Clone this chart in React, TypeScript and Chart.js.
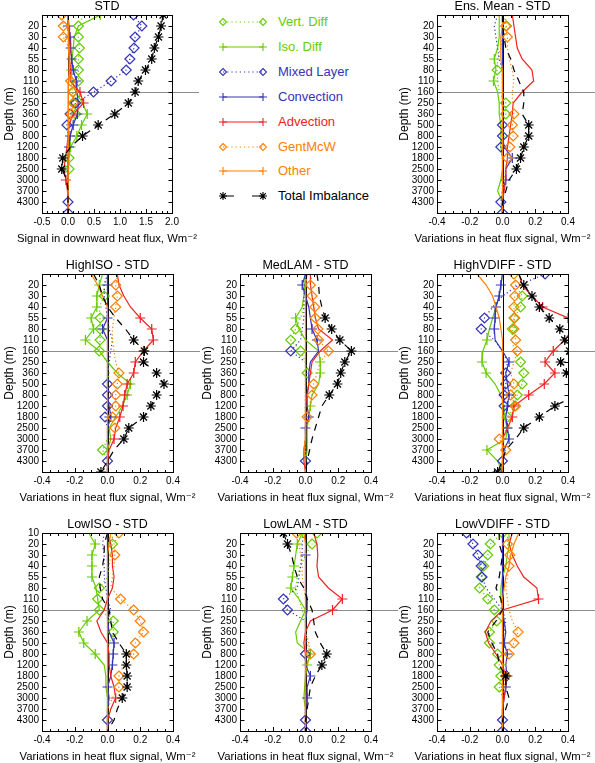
import React, { useEffect, useRef } from "react";
import { Chart, registerables } from "chart.js";

Chart.register(...registerables);

const FONT = "'Liberation Sans', Arial, Helvetica, 'DejaVu Sans', sans-serif";
Chart.defaults.font.family = FONT;

// ---------- axis categories ----------
const DEPTH_LABELS = ["10", "20", "30", "40", "55", "80", "110", "160", "250", "360", "500", "800", "1200", "1800", "2500", "3000", "3700", "4300", ""];
const REF_DEPTH_INDEX = 7; // 160 m

// ---------- series ----------
const SERIES_NAMES = ["Vert. Diff", "Iso. Diff", "Mixed Layer", "Convection", "Advection", "GentMcW", "Other", "Total Imbalance"];
const SERIES_COLORS = ["#66cc00", "#66cc00", "#3434b8", "#3434b8", "#ee2222", "#ff8000", "#ff8000", "#000000"];
const SERIES_MARKERS = ["diamond", "plus", "diamond", "plus", "plus", "diamond", "plus", "star"];
const SERIES_LINES = ["dot", "solid", "dot", "solid", "solid", "dot", "solid", "dash"];

// ---------- STD ----------
const STD_VERT = [0.30, 0.20, 0.20, 0.22, 0.20, 0.20, 0.20, 0.10, 0.12, 0.15, 0.08, 0.05, 0.02, 0.02, 0.02, 0.00, 0.00, 0.00, 0.00];
const STD_VERT_PTS = [1, 2, 3, 4, 5, 6, 7, 8, 9, 13, 14];
const STD_ISO = [0.62, 0.20, 0.12, 0.10, 0.08, 0.06, 0.08, 0.15, 0.28, 0.37, 0.26, 0.17, 0.05, 0.02, 0.00, 0.00, 0.00, 0.00, 0.00];
const STD_ISO_PTS = [0, 5, 9, 10, 11, 12];
const STD_MIX = [1.26, 1.42, 1.29, 1.27, 1.19, 1.12, 0.83, 0.49, 0.15, 0.04, -0.02, 0.00, 0.00, 0.00, 0.00, 0.00, 0.00, 0.00, 0.00];
const STD_MIX_PTS = [0, 1, 2, 3, 4, 5, 6, 7, 8, 9, 10, 17, 18];
const STD_CONV = [0.00, 0.00, 0.04, 0.05, 0.07, 0.10, 0.16, 0.17, 0.20, 0.18, 0.10, 0.04, 0.02, 0.00, 0.00, 0.00, 0.00, 0.00, 0.00];
const STD_CONV_PTS = [1, 2, 3, 4, 5, 6, 9, 10, 11, 12];
const STD_ADV = [0.00, 0.02, 0.03, 0.04, 0.03, 0.05, 0.04, 0.23, 0.30, 0.10, 0.02, 0.00, -0.02, -0.05, -0.08, -0.04, -0.01, 0.00, 0.00];
const STD_ADV_PTS = [7, 8, 15];
const STD_GM = [-0.12, -0.09, -0.09, 0.02, 0.03, 0.05, 0.05, 0.09, 0.10, 0.06, 0.02, 0.00, 0.00, 0.00, 0.00, 0.00, 0.00, 0.00, 0.00];
const STD_GM_PTS = [0, 1, 2, 6, 7, 8, 9];
const STD_OTH = [0.00, 0.00, 0.01, 0.01, 0.02, 0.02, 0.01, 0.00, 0.00, 0.01, 0.01, 0.00, 0.00, 0.00, 0.00, 0.00, 0.00, 0.00, 0.00];
const STD_OTH_PTS: number[] = [];
const STD_TOT = [1.83, 1.79, 1.74, 1.66, 1.61, 1.49, 1.35, 1.29, 1.16, 0.90, 0.58, 0.28, 0.05, -0.10, -0.12, -0.02, 0.00, 0.00, 0.00];
const STD_TOT_PTS = [0, 1, 2, 3, 4, 5, 6, 7, 8, 9, 10, 11, 13, 14];

// ---------- Ens. Mean - STD ----------
const ENS_VERT = [0.00, 0.025, 0.00, -0.01, -0.03, -0.033, -0.03, -0.02, 0.02, 0.02, 0.00, 0.01, 0.00, 0.00, 0.00, 0.00, 0.00, 0.00, 0.00];
const ENS_VERT_PTS = [1, 5, 8, 9];
const ENS_ISO = [-0.02, -0.02, -0.02, -0.03, -0.05, -0.04, -0.055, -0.03, -0.02, -0.02, -0.01, -0.01, -0.01, 0.00, 0.00, -0.01, -0.03, 0.00, 0.00];
const ENS_ISO_PTS = [4, 6];
const ENS_MIX = [-0.03, -0.05, -0.04, -0.03, -0.02, 0.00, 0.00, 0.00, 0.00, 0.00, 0.00, 0.00, -0.01, 0.00, 0.00, 0.00, 0.00, -0.01, 0.00];
const ENS_MIX_PTS = [10, 11, 12, 17, 18];
const ENS_CONV = [0.00, 0.00, 0.00, 0.00, 0.00, 0.00, 0.00, 0.00, 0.00, 0.00, 0.00, 0.00, 0.01, 0.06, 0.02, 0.02, 0.00, 0.00, 0.00];
const ENS_CONV_PTS = [13, 15];
const ENS_ADV = [0.06, 0.07, 0.08, 0.09, 0.12, 0.18, 0.19, 0.12, 0.065, 0.06, 0.05, 0.04, 0.03, 0.03, 0.02, 0.02, 0.01, 0.00, 0.00];
const ENS_ADV_PTS: number[] = [];
const ENS_GM = [0.02, 0.02, 0.03, 0.03, 0.04, 0.06, 0.07, 0.06, 0.06, 0.07, 0.06, 0.065, 0.045, 0.03, 0.02, 0.01, 0.00, 0.00, 0.00];
const ENS_GM_PTS = [1, 2, 9, 10, 11, 12, 13];
const ENS_OTH = [0.00, 0.00, -0.01, -0.01, -0.01, 0.00, 0.00, 0.00, 0.00, 0.00, 0.00, 0.00, 0.00, 0.00, 0.00, 0.00, 0.00, 0.00, 0.00];
const ENS_OTH_PTS: number[] = [];
const ENS_TOT = [0.00, 0.00, 0.01, 0.02, 0.05, 0.07, 0.10, 0.13, 0.13, 0.12, 0.16, 0.16, 0.13, 0.11, 0.085, 0.04, 0.02, 0.00, 0.00];
const ENS_TOT_PTS = [10, 11, 12, 13, 14];

// ---------- HighISO - STD ----------
const HISO_VERT = [0.00, -0.02, -0.02, -0.05, -0.045, -0.045, -0.045, -0.05, 0.00, 0.01, 0.00, 0.00, 0.00, 0.00, 0.00, 0.00, -0.03, 0.00, 0.00];
const HISO_VERT_PTS = [2, 4, 5, 6, 7, 16];
const HISO_ISO = [-0.03, -0.05, -0.065, -0.065, -0.10, -0.085, -0.135, -0.05, 0.00, 0.06, 0.14, 0.12, 0.09, 0.05, 0.01, 0.02, 0.00, 0.00, 0.00];
const HISO_ISO_PTS = [1, 2, 3, 4, 5, 6, 10, 11];
const HISO_MIX = [0.00, -0.02, -0.02, -0.01, 0.00, 0.01, 0.03, 0.02, 0.01, 0.00, 0.00, 0.00, 0.00, -0.015, 0.00, 0.00, 0.00, 0.00, 0.00];
const HISO_MIX_PTS = [10, 11, 12, 13, 17];
const HISO_CONV = [0.00, 0.00, 0.00, 0.00, 0.00, -0.03, 0.00, 0.00, 0.00, 0.00, 0.00, 0.00, 0.01, 0.02, 0.00, 0.00, 0.00, 0.00, 0.00];
const HISO_CONV_PTS = [1, 4, 5, 13];
const HISO_ADV = [0.06, 0.07, 0.10, 0.14, 0.20, 0.27, 0.28, 0.22, 0.17, 0.16, 0.12, 0.105, 0.095, 0.075, 0.05, 0.04, 0.01, 0.00, 0.00];
const HISO_ADV_PTS = [4, 5, 6, 7, 8, 9, 10, 11, 12, 13, 15];
const HISO_GM = [0.06, 0.05, 0.06, 0.05, 0.04, 0.03, 0.03, 0.04, 0.05, 0.07, 0.06, 0.05, 0.05, 0.03, 0.045, 0.02, 0.00, 0.00, 0.00];
const HISO_GM_PTS = [1, 2, 3, 9, 10, 11, 12, 13, 14];
const HISO_OTH = [-0.10, -0.06, -0.03, 0.00, 0.00, 0.00, 0.00, 0.00, 0.00, 0.00, 0.00, 0.00, 0.00, 0.00, 0.00, 0.00, 0.00, 0.00, 0.00];
const HISO_OTH_PTS: number[] = [];
const HISO_TOT = [-0.085, -0.05, -0.03, 0.00, 0.05, 0.11, 0.16, 0.225, 0.22, 0.30, 0.345, 0.30, 0.265, 0.22, 0.13, 0.10, 0.04, 0.00, -0.04];
const HISO_TOT_PTS = [6, 7, 8, 9, 10, 11, 12, 13, 14, 15, 18];

// ---------- MedLAM - STD ----------
const MLAM_VERT = [0.00, 0.00, 0.00, -0.01, -0.03, -0.06, -0.09, -0.03, 0.00, 0.01, 0.00, 0.00, 0.00, 0.00, 0.00, 0.00, 0.00, 0.00, 0.00];
const MLAM_VERT_PTS = [5, 6, 7, 9];
const MLAM_ISO = [0.00, -0.005, -0.01, -0.02, -0.06, -0.04, 0.00, 0.08, 0.09, 0.09, 0.08, 0.04, 0.03, 0.02, 0.01, 0.01, 0.01, 0.00, 0.00];
const MLAM_ISO_PTS = [4, 8, 9, 12];
const MLAM_MIX = [0.00, 0.00, -0.01, -0.01, -0.01, -0.02, -0.03, -0.09, 0.00, 0.00, 0.00, 0.00, 0.00, 0.00, 0.00, 0.00, 0.00, 0.00, 0.00];
const MLAM_MIX_PTS = [7, 17];
const MLAM_CONV = [0.00, -0.02, 0.00, 0.02, 0.03, 0.04, 0.07, 0.08, 0.03, 0.02, 0.02, 0.01, 0.01, 0.02, 0.00, 0.00, 0.00, 0.00, 0.00];
const MLAM_CONV_PTS = [1, 5, 6, 13, 14];
const MLAM_ADV = [0.03, 0.03, 0.04, 0.05, 0.06, 0.08, 0.165, 0.09, 0.04, 0.03, 0.02, 0.01, 0.00, 0.00, 0.00, 0.00, -0.01, -0.01, 0.00];
const MLAM_ADV_PTS: number[] = [];
const MLAM_GM = [0.04, 0.03, 0.04, 0.057, 0.06, 0.076, 0.08, 0.14, 0.09, 0.07, 0.05, 0.04, 0.03, 0.01, 0.00, 0.00, 0.00, 0.00, 0.00];
const MLAM_GM_PTS = [1, 2, 3, 4, 5, 6, 7, 10, 11, 13];
const MLAM_OTH = [0.01, 0.00, 0.00, 0.00, 0.00, 0.00, 0.00, 0.00, 0.00, 0.00, 0.00, 0.00, 0.00, 0.00, 0.00, 0.00, -0.01, 0.00, 0.00];
const MLAM_OTH_PTS: number[] = [];
const MLAM_TOT = [0.07, 0.08, 0.085, 0.10, 0.12, 0.16, 0.21, 0.28, 0.24, 0.215, 0.195, 0.145, 0.10, 0.08, 0.06, 0.04, 0.025, 0.01, 0.00];
const MLAM_TOT_PTS = [4, 5, 6, 7, 8, 9, 10, 11];

// ---------- HighVDIFF - STD ----------
const HVD_VERT = [0.05, 0.08, 0.12, 0.11, 0.07, 0.06, 0.06, 0.07, 0.11, 0.13, 0.12, 0.09, 0.075, 0.03, 0.02, 0.01, 0.00, 0.00, 0.00];
const HVD_VERT_PTS = [2, 3, 4, 5, 8, 9, 10, 11, 12, 13];
const HVD_ISO = [0.00, -0.01, -0.02, -0.04, -0.06, -0.08, -0.095, -0.12, -0.125, -0.10, -0.045, -0.01, 0.01, 0.01, 0.03, 0.02, -0.095, -0.03, 0.00];
const HVD_ISO_PTS = [6, 8, 9, 14, 16];
const HVD_MIX = [0.26, 0.10, 0.00, -0.06, -0.11, -0.13, -0.05, 0.00, 0.03, 0.02, 0.02, 0.01, 0.01, 0.00, 0.00, 0.00, 0.00, 0.00, -0.01];
const HVD_MIX_PTS = [0, 4, 5, 9, 10, 11, 12, 17];
const HVD_CONV = [0.00, -0.01, -0.02, -0.04, -0.045, -0.05, -0.045, 0.00, 0.04, 0.02, 0.03, 0.04, 0.03, 0.02, 0.03, 0.04, 0.01, 0.00, 0.00];
const HVD_CONV_PTS = [1, 2, 3, 4, 5, 8, 11, 12, 14, 15];
const HVD_ADV = [0.10, 0.12, 0.18, 0.245, 0.40, 0.43, 0.38, 0.31, 0.26, 0.32, 0.255, 0.16, 0.07, 0.06, 0.03, 0.00, 0.00, 0.00, 0.00];
const HVD_ADV_PTS = [3, 4, 7, 8, 9, 10, 11, 12, 13];
const HVD_GM = [0.07, 0.08, 0.075, 0.07, 0.075, 0.07, 0.08, 0.09, 0.07, 0.05, 0.07, 0.05, 0.08, 0.05, 0.04, -0.02, 0.02, 0.00, 0.00];
const HVD_GM_PTS = [0, 1, 2, 3, 4, 5, 6, 7, 10, 11, 12, 15, 16];
const HVD_OTH = [-0.155, -0.10, -0.06, -0.04, -0.02, -0.01, 0.00, 0.00, 0.00, 0.00, 0.00, 0.00, 0.00, 0.00, 0.00, 0.00, 0.00, 0.00, 0.00];
const HVD_OTH_PTS: number[] = [];
const HVD_TOT = [0.10, 0.13, 0.18, 0.225, 0.285, 0.35, 0.38, 0.41, 0.355, 0.39, 0.50, 0.45, 0.32, 0.225, 0.13, 0.08, 0.02, 0.00, -0.03];
const HVD_TOT_PTS = [1, 2, 3, 4, 5, 6, 7, 8, 9, 12, 13, 14, 18];

// ---------- LowISO - STD ----------
const LISO_VERT = [0.03, 0.03, 0.02, 0.01, 0.00, -0.05, -0.06, -0.05, 0.035, 0.035, 0.01, 0.00, 0.00, 0.00, 0.00, 0.00, 0.00, 0.00, 0.00];
const LISO_VERT_PTS = [1, 5, 6, 7, 8, 9];
const LISO_ISO = [-0.115, -0.075, -0.095, -0.095, -0.095, -0.07, -0.06, -0.05, -0.125, -0.175, -0.145, -0.075, -0.02, -0.01, -0.01, 0.00, 0.00, 0.00, 0.00];
const LISO_ISO_PTS = [1, 2, 3, 4, 8, 9, 10, 11];
const LISO_MIX = [-0.02, -0.03, -0.02, -0.02, -0.02, -0.01, 0.00, 0.02, 0.00, 0.00, 0.00, 0.00, 0.00, 0.00, 0.00, 0.00, 0.00, 0.00, 0.00];
const LISO_MIX_PTS = [17];
const LISO_CONV = [0.00, 0.00, 0.00, 0.00, 0.00, 0.00, 0.00, 0.00, 0.00, 0.01, 0.04, 0.035, 0.03, 0.02, 0.00, 0.01, 0.00, 0.00, 0.00];
const LISO_CONV_PTS = [10, 11, 12, 14];
const LISO_ADV = [0.00, 0.02, 0.03, 0.03, 0.04, 0.03, 0.00, -0.02, -0.065, -0.04, 0.00, 0.01, 0.01, 0.02, 0.04, 0.05, 0.02, 0.00, 0.00];
const LISO_ADV_PTS = [15];
const LISO_GM = [0.07, 0.04, 0.045, 0.04, 0.03, 0.02, 0.08, 0.16, 0.20, 0.22, 0.17, 0.16, 0.10, 0.07, 0.07, 0.03, 0.00, 0.00, 0.00];
const LISO_GM_PTS = [0, 2, 6, 7, 8, 9, 10, 11, 13, 14];
const LISO_OTH = [0.02, 0.01, 0.00, 0.00, 0.00, 0.00, 0.00, 0.00, 0.00, 0.00, 0.00, 0.00, 0.00, 0.00, 0.00, 0.00, 0.00, 0.00, 0.00];
const LISO_OTH_PTS: number[] = [];
const LISO_TOT = [0.00, -0.02, -0.02, -0.03, -0.05, -0.045, -0.03, 0.01, 0.02, 0.03, 0.07, 0.115, 0.115, 0.12, 0.12, 0.09, 0.06, 0.04, 0.00];
const LISO_TOT_PTS = [11, 12, 13, 14, 15];

// ---------- LowLAM - STD ----------
const LLAM_VERT = [0.07, 0.04, 0.00, -0.03, -0.05, -0.06, -0.04, -0.02, 0.00, 0.00, 0.01, 0.03, 0.01, 0.00, 0.00, 0.00, 0.00, 0.00, 0.00];
const LLAM_VERT_PTS = [0, 1];
const LLAM_ISO = [-0.02, -0.05, -0.06, -0.07, -0.08, -0.09, -0.04, 0.00, -0.03, -0.06, -0.05, 0.03, 0.01, 0.00, -0.005, -0.01, 0.00, 0.00, 0.00];
const LLAM_ISO_PTS = [0, 1, 3, 4, 5, 11, 12];
const LLAM_MIX = [-0.01, -0.02, -0.02, -0.03, -0.04, -0.05, -0.135, -0.11, 0.00, 0.00, 0.00, 0.00, 0.00, 0.00, 0.00, 0.00, 0.00, 0.00, 0.00];
const LLAM_MIX_PTS = [6, 7, 11, 17, 18];
const LLAM_CONV = [0.00, 0.00, 0.00, 0.00, 0.00, 0.00, 0.01, 0.01, 0.00, 0.00, 0.00, 0.00, 0.00, 0.03, 0.01, 0.01, 0.00, 0.00, 0.00];
const LLAM_CONV_PTS = [2, 13, 15];
const LLAM_ADV = [0.05, 0.07, 0.075, 0.07, 0.08, 0.14, 0.225, 0.165, 0.03, 0.00, -0.01, 0.00, 0.00, 0.00, 0.00, 0.00, 0.00, 0.00, 0.00];
const LLAM_ADV_PTS = [6, 7];
const LLAM_GM = [-0.055, -0.04, -0.03, -0.02, -0.02, -0.01, 0.00, 0.00, 0.00, 0.00, 0.02, 0.03, 0.01, 0.00, 0.00, 0.00, 0.00, 0.00, 0.00];
const LLAM_GM_PTS = [0, 11];
const LLAM_OTH = [-0.01, 0.00, 0.00, 0.00, 0.00, 0.00, 0.00, 0.00, 0.00, 0.00, 0.00, 0.00, 0.00, 0.00, 0.00, 0.00, 0.00, 0.00, 0.00];
const LLAM_OTH_PTS: number[] = [];
const LLAM_TOT = [-0.135, -0.11, -0.085, -0.07, -0.05, -0.01, 0.01, 0.04, 0.05, 0.06, 0.09, 0.13, 0.10, 0.06, 0.03, 0.02, 0.01, 0.00, 0.00];
const LLAM_TOT_PTS = [0, 1, 11, 12];

// ---------- LowVDIFF - STD ----------
const LVD_VERT = [0.00, -0.075, -0.09, -0.115, -0.13, -0.14, -0.09, -0.05, -0.035, -0.08, -0.08, -0.03, -0.02, -0.01, -0.02, 0.00, 0.00, 0.00, 0.00];
const LVD_VERT_PTS = [0, 1, 2, 3, 4, 5, 6, 7, 8, 9, 10, 11, 12, 13, 14];
const LVD_ISO = [0.04, 0.04, 0.03, 0.02, 0.00, -0.01, -0.01, 0.00, 0.00, 0.00, 0.00, 0.00, 0.00, 0.00, 0.00, 0.00, 0.00, 0.00, 0.00];
const LVD_ISO_PTS: number[] = [];
const LVD_MIX = [-0.22, -0.18, -0.15, -0.13, -0.125, -0.10, -0.05, 0.00, 0.02, 0.01, 0.00, 0.00, 0.00, 0.00, 0.00, 0.00, 0.00, 0.00, 0.00];
const LVD_MIX_PTS = [0, 1, 2, 3, 4, 17, 18];
const LVD_CONV = [0.00, 0.00, 0.00, 0.00, 0.00, 0.00, 0.00, 0.00, 0.01, 0.02, 0.01, 0.03, 0.02, 0.03, 0.02, 0.01, 0.00, 0.00, 0.00];
const LVD_CONV_PTS = [10, 11, 13, 14];
const LVD_ADV = [0.06, 0.04, 0.06, 0.09, 0.13, 0.21, 0.22, 0.00, -0.07, -0.105, -0.085, -0.04, 0.00, 0.02, 0.02, 0.01, 0.00, 0.00, 0.00];
const LVD_ADV_PTS = [6];
const LVD_GM = [0.03, 0.03, 0.045, 0.04, 0.03, 0.02, 0.03, 0.04, 0.06, 0.095, 0.07, 0.04, 0.02, 0.02, 0.01, 0.00, 0.00, 0.00, 0.00];
const LVD_GM_PTS = [1, 2, 3, 9, 10, 11, 13];
const LVD_OTH = [0.10, 0.07, 0.05, 0.04, 0.02, 0.01, 0.00, 0.00, 0.00, 0.00, 0.00, 0.00, 0.00, 0.00, 0.00, 0.00, 0.00, 0.00, 0.00];
const LVD_OTH_PTS: number[] = [];
const LVD_TOT = [-0.02, -0.02, 0.00, -0.01, -0.02, -0.04, -0.01, 0.00, -0.04, -0.09, -0.065, -0.03, -0.02, 0.02, 0.02, 0.04, 0.02, 0.00, 0.00];
const LVD_TOT_PTS = [13];

// ---------- x ranges ----------
const STD_X = { min: -0.5, max: 2.0, major: 0.5, minor: 0.1 };
const VAR_X = { min: -0.4, max: 0.4, major: 0.2, minor: 0.05 };

const X_TITLE_STD = "Signal in downward heat flux, Wm\u207B\u00B2";
const X_TITLE_VAR = "Variations in heat flux signal, Wm\u207B\u00B2";

type Range = { min: number; max: number; major: number; minor: number };
type PanelDef = {
  title: string;
  xTitle: string;
  range: Range;
  showTopDepth: boolean;
  series: number[][];
  points: number[][];
  left: number;
  top: number;
  plotW: number;
};

const PANELS: PanelDef[] = [
  {
    title: "STD", xTitle: X_TITLE_STD, range: STD_X, showTopDepth: false, left: 0, top: 0, plotW: 130,
    series: [STD_VERT, STD_ISO, STD_MIX, STD_CONV, STD_ADV, STD_GM, STD_OTH, STD_TOT],
    points: [STD_VERT_PTS, STD_ISO_PTS, STD_MIX_PTS, STD_CONV_PTS, STD_ADV_PTS, STD_GM_PTS, STD_OTH_PTS, STD_TOT_PTS],
  },
  {
    title: "Ens. Mean - STD", xTitle: X_TITLE_VAR, range: VAR_X, showTopDepth: false, left: 395, top: 0, plotW: 131,
    series: [ENS_VERT, ENS_ISO, ENS_MIX, ENS_CONV, ENS_ADV, ENS_GM, ENS_OTH, ENS_TOT],
    points: [ENS_VERT_PTS, ENS_ISO_PTS, ENS_MIX_PTS, ENS_CONV_PTS, ENS_ADV_PTS, ENS_GM_PTS, ENS_OTH_PTS, ENS_TOT_PTS],
  },
  {
    title: "HighISO - STD", xTitle: X_TITLE_VAR, range: VAR_X, showTopDepth: false, left: 0, top: 259, plotW: 131,
    series: [HISO_VERT, HISO_ISO, HISO_MIX, HISO_CONV, HISO_ADV, HISO_GM, HISO_OTH, HISO_TOT],
    points: [HISO_VERT_PTS, HISO_ISO_PTS, HISO_MIX_PTS, HISO_CONV_PTS, HISO_ADV_PTS, HISO_GM_PTS, HISO_OTH_PTS, HISO_TOT_PTS],
  },
  {
    title: "MedLAM - STD", xTitle: X_TITLE_VAR, range: VAR_X, showTopDepth: false, left: 198, top: 259, plotW: 131,
    series: [MLAM_VERT, MLAM_ISO, MLAM_MIX, MLAM_CONV, MLAM_ADV, MLAM_GM, MLAM_OTH, MLAM_TOT],
    points: [MLAM_VERT_PTS, MLAM_ISO_PTS, MLAM_MIX_PTS, MLAM_CONV_PTS, MLAM_ADV_PTS, MLAM_GM_PTS, MLAM_OTH_PTS, MLAM_TOT_PTS],
  },
  {
    title: "HighVDIFF - STD", xTitle: X_TITLE_VAR, range: VAR_X, showTopDepth: false, left: 395, top: 259, plotW: 131,
    series: [HVD_VERT, HVD_ISO, HVD_MIX, HVD_CONV, HVD_ADV, HVD_GM, HVD_OTH, HVD_TOT],
    points: [HVD_VERT_PTS, HVD_ISO_PTS, HVD_MIX_PTS, HVD_CONV_PTS, HVD_ADV_PTS, HVD_GM_PTS, HVD_OTH_PTS, HVD_TOT_PTS],
  },
  {
    title: "LowISO - STD", xTitle: X_TITLE_VAR, range: VAR_X, showTopDepth: true, left: 0, top: 518, plotW: 131,
    series: [LISO_VERT, LISO_ISO, LISO_MIX, LISO_CONV, LISO_ADV, LISO_GM, LISO_OTH, LISO_TOT],
    points: [LISO_VERT_PTS, LISO_ISO_PTS, LISO_MIX_PTS, LISO_CONV_PTS, LISO_ADV_PTS, LISO_GM_PTS, LISO_OTH_PTS, LISO_TOT_PTS],
  },
  {
    title: "LowLAM - STD", xTitle: X_TITLE_VAR, range: VAR_X, showTopDepth: false, left: 198, top: 518, plotW: 131,
    series: [LLAM_VERT, LLAM_ISO, LLAM_MIX, LLAM_CONV, LLAM_ADV, LLAM_GM, LLAM_OTH, LLAM_TOT],
    points: [LLAM_VERT_PTS, LLAM_ISO_PTS, LLAM_MIX_PTS, LLAM_CONV_PTS, LLAM_ADV_PTS, LLAM_GM_PTS, LLAM_OTH_PTS, LLAM_TOT_PTS],
  },
  {
    title: "LowVDIFF - STD", xTitle: X_TITLE_VAR, range: VAR_X, showTopDepth: false, left: 395, top: 518, plotW: 131,
    series: [LVD_VERT, LVD_ISO, LVD_MIX, LVD_CONV, LVD_ADV, LVD_GM, LVD_OTH, LVD_TOT],
    points: [LVD_VERT_PTS, LVD_ISO_PTS, LVD_MIX_PTS, LVD_CONV_PTS, LVD_ADV_PTS, LVD_GM_PTS, LVD_OTH_PTS, LVD_TOT_PTS],
  },
];

// ---------- layout constants ----------
const CANVAS_W = 200;
const CANVAS_H = 248;
const Y_AXIS_W = 42;
const X_AXIS_H = 35;

const POINT_STYLE: Record<string, string> = { diamond: "rectRot", plus: "cross", star: "star" };
const POINT_R: Record<string, number> = { diamond: 5, plus: 5, star: 5 };
const DASHES: Record<string, number[]> = { dot: [1.2, 2.6], solid: [], dash: [7, 6] };

function steps(min: number, max: number, step: number): number[] {
  const n = Math.round((max - min) / step);
  const out: number[] = [];
  for (let j = 0; j <= n; j++) out.push(+(min + j * step).toFixed(4));
  return out;
}

const decorPlugin = {
  id: "decor",
  beforeDatasetsDraw(chart: any, _a: any, opts: any) {
    const { ctx, chartArea: a, scales } = chart;
    const xs = scales.x;
    const ys = scales.y;
    ctx.save();
    ctx.lineWidth = 1;
    // zero line
    const x0 = Math.round(xs.getPixelForValue(0)) + 0.5;
    ctx.strokeStyle = "#000";
    ctx.beginPath();
    ctx.moveTo(x0, a.top);
    ctx.lineTo(x0, a.bottom);
    ctx.stroke();
    // reference depth line
    const yr = Math.round(ys.getPixelForValue(opts.refIndex)) + 0.5;
    ctx.strokeStyle = "#8c8c8c";
    ctx.beginPath();
    ctx.moveTo(a.left, yr);
    ctx.lineTo(a.right + 27, yr);
    ctx.stroke();
    ctx.restore();
  },
  afterDraw(chart: any, _a: any, opts: any) {
    const { ctx, chartArea: a, scales } = chart;
    const xs = scales.x;
    const ys = scales.y;
    const r: Range = opts.range;
    ctx.save();
    ctx.strokeStyle = "#000";
    ctx.lineWidth = 1;
    const L = Math.round(a.left) + 0.5;
    const R = Math.round(a.right) + 0.5;
    const T = Math.round(a.top) + 0.5;
    const B = Math.round(a.bottom) + 0.5;
    ctx.strokeRect(L, T, R - L, B - T);
    ctx.beginPath();
    // x ticks
    const majors = steps(r.min, r.max, r.major);
    steps(r.min, r.max, r.minor).forEach((v) => {
      const isMajor = majors.some((m) => Math.abs(m - v) < 1e-6);
      const len = isMajor ? 4.5 : 2.5;
      const px = Math.round(xs.getPixelForValue(v)) + 0.5;
      ctx.moveTo(px, B);
      ctx.lineTo(px, B - len);
      ctx.moveTo(px, T);
      ctx.lineTo(px, T + len);
    });
    // y ticks
    DEPTH_LABELS.forEach((_l, i) => {
      const py = Math.round(ys.getPixelForValue(i)) + 0.5;
      ctx.moveTo(L, py);
      ctx.lineTo(L + 4, py);
      ctx.moveTo(R, py);
      ctx.lineTo(R - 4, py);
    });
    ctx.stroke();
    // x axis title
    ctx.fillStyle = "#000";
    ctx.font = `11.3px ${FONT}`;
    ctx.textAlign = "center";
    ctx.textBaseline = "middle";
    ctx.fillText(opts.xTitle, (a.left + a.right) / 2, a.bottom + 26);
    ctx.restore();
  },
};

function Panel({ def }: { def: PanelDef }) {
  const ref = useRef<HTMLCanvasElement>(null);
  useEffect(() => {
    const canvas = ref.current;
    if (!canvas) return;
    const datasets = SERIES_NAMES.map((name, k) => {
      const vals = def.series[k];
      const pts = def.points[k];
      const mk = SERIES_MARKERS[k];
      return {
        label: name,
        data: vals.map((v, i) => ({ x: v, y: i })),
        borderColor: SERIES_COLORS[k],
        backgroundColor: SERIES_COLORS[k],
        borderWidth: 1.2,
        borderDash: DASHES[SERIES_LINES[k]],
        borderCapStyle: "butt",
        pointStyle: POINT_STYLE[mk],
        pointRadius: vals.map((_v, i) => (pts.includes(i) ? POINT_R[mk] : 0)),
        pointHoverRadius: 0,
        pointHitRadius: 0,
        pointBorderColor: SERIES_COLORS[k],
        pointBackgroundColor: "rgba(0,0,0,0)",
        pointBorderWidth: 1.2,
        fill: false,
        tension: 0,
        order: SERIES_NAMES.length - k,
      };
    });
    const yTicks = DEPTH_LABELS.map((_l, i) => i).filter((i) => i >= (def.showTopDepth ? 0 : 1) && i <= 17);
    const r = def.range;
    const chart = new Chart(canvas, {
      type: "line",
      data: { datasets } as any,
      plugins: [decorPlugin as any],
      options: {
        indexAxis: "y",
        animation: false,
        responsive: false,
        devicePixelRatio: 1,
        events: [],
        layout: { padding: { left: 0, top: 0, bottom: 0, right: CANVAS_W - Y_AXIS_W - def.plotW } },
        plugins: {
          legend: { display: false },
          tooltip: { enabled: false },
          title: {
            display: true,
            text: def.title,
            color: "#000",
            fullSize: false,
            font: { family: FONT, size: 12.5, weight: "normal", lineHeight: 1 },
            padding: { top: 0, bottom: 2.5 },
          },
          decor: { refIndex: REF_DEPTH_INDEX, range: r, xTitle: def.xTitle },
        } as any,
        scales: {
          x: {
            type: "linear",
            position: "bottom",
            min: r.min,
            max: r.max,
            afterFit: (s: any) => {
              s.height = X_AXIS_H;
            },
            afterBuildTicks: (s: any) => {
              s.ticks = steps(r.min, r.max, r.major).map((v) => ({ value: v }));
            },
            ticks: {
              color: "#000",
              font: { family: FONT, size: 10 },
              padding: 3,
              maxRotation: 0,
              autoSkip: false,
              callback: (v: any) => Number(v).toFixed(1),
            },
            grid: { display: false, drawTicks: false },
            border: { display: false },
            title: { display: false },
          },
          y: {
            type: "linear",
            position: "left",
            reverse: true,
            min: 0,
            max: DEPTH_LABELS.length - 1,
            afterFit: (s: any) => {
              s.width = Y_AXIS_W;
            },
            afterBuildTicks: (s: any) => {
              s.ticks = yTicks.map((v) => ({ value: v }));
            },
            ticks: {
              color: "#000",
              font: { family: FONT, size: 10 },
              padding: 3,
              autoSkip: false,
              callback: (v: any) => DEPTH_LABELS[Math.round(Number(v))],
            },
            grid: { display: false, drawTicks: false },
            border: { display: false },
            title: {
              display: true,
              text: "Depth (m)",
              color: "#000",
              font: { family: FONT, size: 12 },
              padding: { top: 2, bottom: 0 },
            },
          },
        },
      } as any,
    });
    return () => chart.destroy();
  }, [def]);
  return (
    <canvas
      ref={ref}
      width={CANVAS_W}
      height={CANVAS_H}
      style={{ position: "absolute", left: def.left, top: def.top, width: CANVAS_W, height: CANVAS_H }}
    />
  );
}

function Marker({ kind, cx, cy, color }: { kind: string; cx: number; cy: number; color: string }) {
  if (kind === "diamond") {
    const r = 3.5;
    return <polygon points={`${cx},${cy - r} ${cx + r},${cy} ${cx},${cy + r} ${cx - r},${cy}`} fill="none" stroke={color} strokeWidth={1.1} />;
  }
  if (kind === "plus") {
    const r = 4;
    return <path d={`M${cx - r},${cy}H${cx + r}M${cx},${cy - r}V${cy + r}`} stroke={color} strokeWidth={1.1} fill="none" />;
  }
  const r = 4;
  const d = r * Math.SQRT1_2;
  return (
    <path
      d={`M${cx - r},${cy}H${cx + r}M${cx},${cy - r}V${cy + r}M${cx - d},${cy - d}L${cx + d},${cy + d}M${cx - d},${cy + d}L${cx + d},${cy - d}`}
      stroke={color}
      strokeWidth={1.1}
      fill="none"
    />
  );
}

function Legend() {
  return (
    <div style={{ position: "absolute", left: 0, top: 0 }}>
      {SERIES_NAMES.map((name, k) => {
        const color = SERIES_COLORS[k];
        const style = SERIES_LINES[k];
        const dash = style === "dot" ? "1.2 3" : style === "dash" ? "11 18" : undefined;
        return (
          <div
            key={name}
            style={{ position: "absolute", left: 219, top: 14 + k * 24.9, height: 16, display: "flex", alignItems: "center", whiteSpace: "nowrap" }}
          >
            <svg width={48} height={16} style={{ display: "block" }}>
              <line x1={4} y1={8} x2={44} y2={8} stroke={color} strokeWidth={1.1} strokeDasharray={dash} />
              <Marker kind={SERIES_MARKERS[k]} cx={4} cy={8} color={color} />
              <Marker kind={SERIES_MARKERS[k]} cx={44} cy={8} color={color} />
            </svg>
            <span style={{ marginLeft: 11, font: `13px ${FONT}`, color, lineHeight: "16px" }}>{name}</span>
          </div>
        );
      })}
    </div>
  );
}

export default function App() {
  return (
    <div style={{ position: "absolute", left: 0, top: 0, width: 595, height: 763, overflow: "hidden", background: "#fff" }}>
      {PANELS.map((p) => (
        <Panel key={p.title} def={p} />
      ))}
      <Legend />
    </div>
  );
}
